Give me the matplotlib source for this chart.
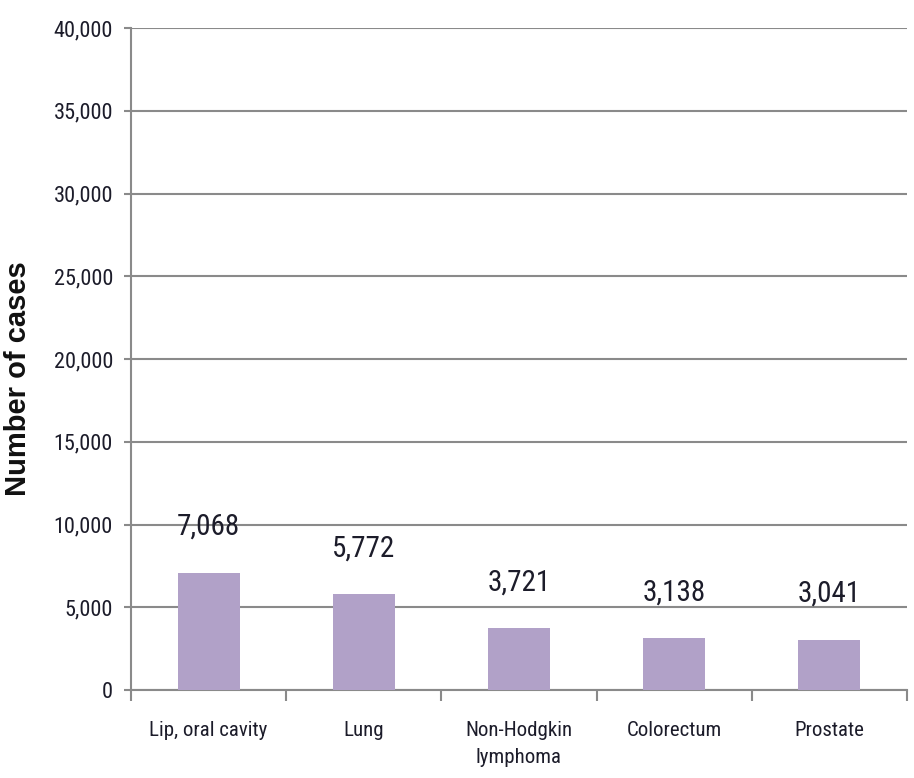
import matplotlib.pyplot as plt
from matplotlib.ticker import FuncFormatter, MultipleLocator

# Number of cases by cancer site
sites = ["Lip, oral cavity", "Lung", "Non-Hodgkin\nlymphoma", "Colorectum", "Prostate"]
cases = [7068, 5772, 3721, 3138, 3041]
y_max = 40000
y_step = 5000

bar_color = "#b1a1c8"
grid_color = "#8a8a8a"
text_color = "#1c1c2a"
narrow = ["Roboto Condensed", "DejaVu Sans"]

fig = plt.figure(figsize=(9.14, 7.78), dpi=100)
ax = fig.add_axes([0.1433, 0.1131, 0.8490, 0.8509])

x = list(range(len(sites)))
ax.bar(x, cases, width=0.4, color=bar_color, zorder=3)

for xi, val in zip(x, cases):
    ax.annotate(f"{val:,}", (xi, val), xytext=(0, 23), textcoords="offset points",
                ha="center", va="bottom", fontsize=21, family=narrow,
                color=text_color, zorder=4)

ax.set_xlim(-0.5, len(sites) - 0.5)
ax.set_ylim(0, y_max)
ax.yaxis.set_major_locator(MultipleLocator(y_step))
ax.yaxis.set_major_formatter(FuncFormatter(lambda v, _: f"{int(v):,}"))
ax.grid(axis="y", color=grid_color, linewidth=1.5, zorder=0)
ax.set_axisbelow(True)

for side in ["top", "right"]:
    ax.spines[side].set_visible(False)
for side in ["left", "bottom"]:
    ax.spines[side].set_color(grid_color)
    ax.spines[side].set_linewidth(1.5)

ax.tick_params(axis="y", length=5, width=1.5, color=grid_color, pad=8,
               labelsize=16, labelcolor=text_color)
for lbl in ax.get_yticklabels():
    lbl.set_family(narrow)

# category labels sit between boundary ticks
ax.set_xticks(x)
ax.set_xticklabels(sites, fontsize=15, family=narrow, color=text_color,
                   linespacing=1.55)
ax.tick_params(axis="x", which="major", length=0, pad=22)
ax.set_xticks([i - 0.5 for i in range(len(sites) + 1)], minor=True)
ax.tick_params(axis="x", which="minor", length=8, width=1.5, color=grid_color)

ax.set_ylabel("Number of cases", fontsize=21, fontweight="bold",
              family="Liberation Sans", color="#111111")
ax.yaxis.set_label_coords(-0.128, 0.47)

fig.savefig("out.png", dpi=100)
